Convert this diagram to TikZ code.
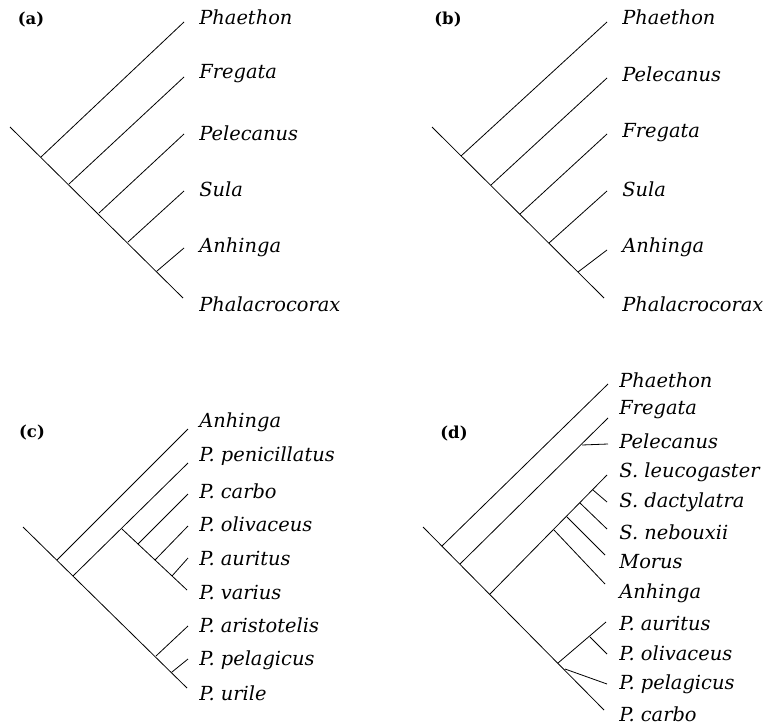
\documentclass[tikz,border=0pt]{standalone}
\usepackage{fontspec}
\setmainfont{DejaVu Serif}
\begin{document}
\begin{tikzpicture}[x=1pt,y=-1pt,line width=0.8pt,
  every node/.style={inner sep=0pt},
  taxon/.style={anchor=west,font=\itshape\fontsize{19.4}{21}\selectfont},
  panel/.style={font=\bfseries\fontsize{16.5}{18}\selectfont}]
\useasboundingbox (0,0) rectangle (763,725);
% (a)
\node[panel] (la) at (31,20) {(a)};
\coordinate (a0) at (10,127);
\coordinate (a1) at (41,157);
\coordinate (a2) at (69,184);
\coordinate (a3) at (99,213);
\coordinate (a4) at (128,242);
\coordinate (a5) at (157,271);
\coordinate (a6) at (183,298);
\node[taxon] (ta1) at (199,17) {Phaethon};
\node[taxon] (ta2) at (199,74) {Fregata};
\node[taxon] (ta3) at (199,133) {Pelecanus};
\node[taxon] (ta4) at (199,189) {Sula};
\node[taxon] (ta5) at (199,247) {Anhinga};
\node[taxon] (ta6) at (199,304) {Phalacrocorax};
\draw (a0) -- (a6);
\draw (a1) -- (184,22);
\draw (a2) -- (184,77);
\draw (a3) -- (184,134);
\draw (a4) -- (184,191);
\draw (a5) -- (184,248);
% (b)
\node[panel] (lb) at (448,20) {(b)};
\coordinate (b0) at (432,127);
\coordinate (b1) at (461,156);
\coordinate (b2) at (491,185);
\coordinate (b3) at (520,214);
\coordinate (b4) at (549,243);
\coordinate (b5) at (578,272);
\coordinate (b6) at (604,298);
\node[taxon] (tb1) at (622,17) {Phaethon};
\node[taxon] (tb2) at (622,74) {Pelecanus};
\node[taxon] (tb3) at (622,133) {Fregata};
\node[taxon] (tb4) at (622,189) {Sula};
\node[taxon] (tb5) at (622,247) {Anhinga};
\node[taxon] (tb6) at (622,304) {Phalacrocorax};
\draw (b0) -- (b6);
\draw (b1) -- (607,22);
\draw (b2) -- (607,78);
\draw (b3) -- (607,134);
\draw (b4) -- (607,191);
\draw (b5) -- (607,250);
% (c)
\node[panel] (lc) at (32,433) {(c)};
\coordinate (c0) at (23,527);
\coordinate (c1) at (57,560);
\coordinate (c2) at (73,576);
\coordinate (c3) at (122,529);
\coordinate (c4) at (138,544);
\coordinate (c5) at (155,560);
\coordinate (c6) at (172,576);
\coordinate (c7) at (156,656);
\coordinate (c8) at (172,672);
\coordinate (c9) at (187,688);
\node[taxon] (tc1) at (199,422) {Anhinga};
\node[taxon] (tc2) at (199,456) {P. penicillatus};
\node[taxon] (tc3) at (199,491) {P. carbo};
\node[taxon] (tc4) at (199,524) {P. olivaceus};
\node[taxon] (tc5) at (199,558) {P. auritus};
\node[taxon] (tc6) at (199,592) {P. varius};
\node[taxon] (tc7) at (199,625) {P. aristotelis};
\node[taxon] (tc8) at (199,660) {P. pelagicus};
\node[taxon] (tc9) at (199,693) {P. urile};
\draw (c0) -- (c9);
\draw (c1) -- (188,429);
\draw (c2) -- (188,463);
\draw (c3) -- (187,590);
\draw (c4) -- (188,494);
\draw (c5) -- (188,526);
\draw (c6) -- (188,558);
\draw (c7) -- (188,626);
\draw (c8) -- (188,659);
% (d)
\node[panel] (ld) at (454,434) {(d)};
\coordinate (d0) at (423,527);
\coordinate (d1) at (442,546);
\coordinate (d2) at (460,564);
\coordinate (d3) at (490,594);
\coordinate (d4) at (554,530);
\coordinate (d5) at (567,517);
\coordinate (d6) at (580,503);
\coordinate (d7) at (593,490);
\coordinate (d8) at (558,663);
\coordinate (d9) at (590,637);
\coordinate (d10) at (565,669);
\coordinate (d11) at (604,710);
\coordinate (d12) at (582,445);
\node[taxon] (td1) at (619,380) {Phaethon};
\node[taxon] (td2) at (619,410) {Fregata};
\node[taxon] (td3) at (619,441) {Pelecanus};
\node[taxon] (td4) at (619,472) {S. leucogaster};
\node[taxon] (td5) at (619,502) {S. dactylatra};
\node[taxon] (td6) at (619,532) {S. nebouxii};
\node[taxon] (td7) at (619,562) {Morus};
\node[taxon] (td8) at (619,593) {Anhinga};
\node[taxon] (td9) at (619,623) {P. auritus};
\node[taxon] (td10) at (619,653) {P. olivaceus};
\node[taxon] (td11) at (619,684) {P. pelagicus};
\node[taxon] (td12) at (619,714) {P. carbo};
\draw (d0) -- (d11);
\draw (d1) -- (608,384);
\draw (d2) -- (608,418);
\draw (d12) -- (608,444);
\draw (d3) -- (607,475);
\draw (d7) -- (607,502);
\draw (d6) -- (607,529);
\draw (d5) -- (605,555);
\draw (d4) -- (605,584);
\draw (d8) -- (606,622);
\draw (d9) -- (607,654);
\draw (d10) -- (607,684);
\end{tikzpicture}
\end{document}
